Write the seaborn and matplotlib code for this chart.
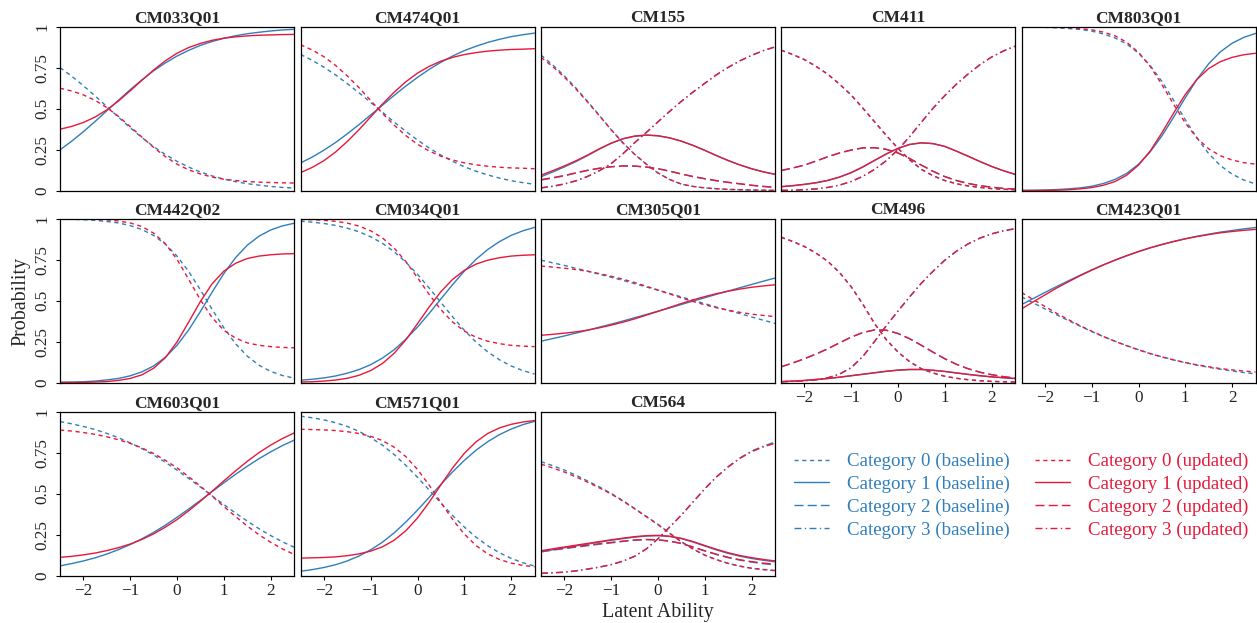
import matplotlib
matplotlib.use("Agg")
import matplotlib.pyplot as plt
import seaborn as sns
from matplotlib.lines import Line2D

# latent ability grid the curves were read at
theta = [-2.5, -2.25, -2.0, -1.75, -1.5, -1.25, -1.0, -0.75, -0.5, -0.25, 0.0,
         0.25, 0.5, 0.75, 1.0, 1.25, 1.5, 1.75, 2.0, 2.25, 2.5]

items = ["CM033Q01", "CM474Q01", "CM155", "CM411", "CM803Q01",
         "CM442Q02", "CM034Q01", "CM305Q01", "CM496", "CM423Q01",
         "CM603Q01", "CM571Q01", "CM564"]

# category probabilities, one row per response category (0, 1, 2, 3)
cm033q01_baseline = [
    [0.751, 0.698, 0.640, 0.578, 0.513, 0.448, 0.384, 0.324, 0.269, 0.221, 0.179,
     0.144, 0.114, 0.090, 0.071, 0.055, 0.043, 0.034, 0.026, 0.020, 0.016],
    [0.249, 0.302, 0.360, 0.422, 0.487, 0.552, 0.616, 0.676, 0.731, 0.779, 0.821,
     0.856, 0.886, 0.910, 0.929, 0.945, 0.957, 0.966, 0.974, 0.980, 0.984],
]
cm033q01_updated = [
    [0.625, 0.608, 0.584, 0.551, 0.507, 0.453, 0.391, 0.327, 0.264, 0.208, 0.162,
     0.127, 0.102, 0.083, 0.070, 0.062, 0.056, 0.052, 0.050, 0.048, 0.047],
    [0.375, 0.392, 0.416, 0.449, 0.493, 0.547, 0.609, 0.673, 0.736, 0.792, 0.838,
     0.873, 0.898, 0.917, 0.930, 0.938, 0.944, 0.948, 0.950, 0.952, 0.953],
]
cm474q01_baseline = [
    [0.831, 0.795, 0.753, 0.706, 0.653, 0.597, 0.538, 0.479, 0.419, 0.362, 0.309,
     0.260, 0.217, 0.179, 0.146, 0.119, 0.096, 0.077, 0.061, 0.049, 0.039],
    [0.169, 0.205, 0.247, 0.294, 0.347, 0.403, 0.462, 0.521, 0.581, 0.638, 0.691,
     0.740, 0.783, 0.821, 0.854, 0.881, 0.904, 0.923, 0.939, 0.951, 0.961],
]
cm474q01_updated = [
    [0.890, 0.858, 0.817, 0.764, 0.700, 0.628, 0.550, 0.472, 0.400, 0.336, 0.283,
     0.242, 0.210, 0.187, 0.170, 0.158, 0.149, 0.143, 0.139, 0.137, 0.134],
    [0.110, 0.142, 0.183, 0.236, 0.300, 0.372, 0.450, 0.528, 0.600, 0.664, 0.717,
     0.758, 0.790, 0.813, 0.830, 0.842, 0.851, 0.857, 0.861, 0.863, 0.866],
]
cm155_baseline = [
    [0.827, 0.767, 0.700, 0.625, 0.543, 0.458, 0.372, 0.292, 0.222, 0.162, 0.108,
     0.068, 0.040, 0.026, 0.017, 0.012, 0.008, 0.006, 0.004, 0.003, 0.002],
    [0.085, 0.114, 0.145, 0.178, 0.215, 0.254, 0.289, 0.316, 0.332, 0.339, 0.335,
     0.322, 0.302, 0.276, 0.246, 0.214, 0.184, 0.157, 0.134, 0.115, 0.100],
    [0.065, 0.077, 0.091, 0.108, 0.124, 0.137, 0.146, 0.151, 0.150, 0.144, 0.134,
     0.119, 0.102, 0.086, 0.073, 0.061, 0.051, 0.042, 0.033, 0.026, 0.021],
    [0.016, 0.026, 0.040, 0.060, 0.087, 0.122, 0.165, 0.225, 0.292, 0.355, 0.420,
     0.484, 0.545, 0.602, 0.655, 0.707, 0.752, 0.792, 0.825, 0.854, 0.878],
]
cm155_updated = [
    [0.813, 0.757, 0.692, 0.619, 0.539, 0.456, 0.371, 0.292, 0.222, 0.162, 0.108,
     0.068, 0.040, 0.026, 0.017, 0.012, 0.008, 0.006, 0.004, 0.003, 0.002],
    [0.095, 0.122, 0.151, 0.183, 0.218, 0.256, 0.290, 0.317, 0.333, 0.339, 0.335,
     0.322, 0.302, 0.276, 0.246, 0.214, 0.184, 0.157, 0.134, 0.115, 0.100],
    [0.068, 0.079, 0.093, 0.109, 0.125, 0.137, 0.146, 0.151, 0.150, 0.144, 0.134,
     0.119, 0.102, 0.086, 0.073, 0.061, 0.051, 0.042, 0.033, 0.026, 0.021],
    [0.018, 0.028, 0.042, 0.061, 0.088, 0.122, 0.165, 0.225, 0.292, 0.355, 0.420,
     0.484, 0.545, 0.602, 0.655, 0.707, 0.752, 0.792, 0.825, 0.854, 0.876],
]
cm411_baseline = [
    [0.858, 0.831, 0.800, 0.758, 0.710, 0.650, 0.583, 0.503, 0.420, 0.337, 0.258,
     0.188, 0.130, 0.091, 0.062, 0.042, 0.029, 0.020, 0.013, 0.009, 0.006],
    [0.024, 0.030, 0.038, 0.048, 0.062, 0.083, 0.110, 0.145, 0.185, 0.224, 0.258,
     0.282, 0.292, 0.287, 0.270, 0.241, 0.210, 0.178, 0.148, 0.122, 0.100],
    [0.122, 0.138, 0.156, 0.181, 0.207, 0.230, 0.248, 0.261, 0.262, 0.252, 0.230,
     0.196, 0.156, 0.118, 0.086, 0.062, 0.044, 0.031, 0.021, 0.014, 0.010],
    [0.002, 0.003, 0.006, 0.011, 0.020, 0.034, 0.056, 0.088, 0.130, 0.183, 0.250,
     0.330, 0.418, 0.503, 0.580, 0.650, 0.712, 0.768, 0.815, 0.852, 0.882],
]
cm411_updated = [
    [0.856, 0.830, 0.799, 0.758, 0.710, 0.650, 0.583, 0.503, 0.420, 0.337, 0.258,
     0.188, 0.130, 0.091, 0.062, 0.042, 0.029, 0.020, 0.013, 0.009, 0.006],
    [0.025, 0.031, 0.039, 0.049, 0.063, 0.083, 0.110, 0.145, 0.185, 0.224, 0.258,
     0.282, 0.292, 0.287, 0.270, 0.241, 0.210, 0.178, 0.148, 0.122, 0.100],
    [0.123, 0.139, 0.156, 0.181, 0.207, 0.230, 0.248, 0.261, 0.262, 0.252, 0.230,
     0.196, 0.156, 0.118, 0.086, 0.062, 0.044, 0.031, 0.021, 0.014, 0.010],
    [0.002, 0.003, 0.006, 0.011, 0.020, 0.034, 0.056, 0.088, 0.130, 0.183, 0.250,
     0.330, 0.418, 0.503, 0.580, 0.650, 0.712, 0.768, 0.815, 0.851, 0.880],
]
cm803q01_baseline = [
    [0.998, 0.997, 0.996, 0.993, 0.989, 0.983, 0.973, 0.956, 0.931, 0.894, 0.839,
     0.763, 0.666, 0.552, 0.433, 0.321, 0.226, 0.153, 0.101, 0.065, 0.041],
    [0.002, 0.003, 0.004, 0.007, 0.011, 0.017, 0.027, 0.044, 0.069, 0.106, 0.161,
     0.237, 0.334, 0.448, 0.567, 0.679, 0.774, 0.847, 0.899, 0.935, 0.959],
]
cm803q01_updated = [
    [0.999, 0.999, 0.998, 0.997, 0.994, 0.989, 0.981, 0.967, 0.944, 0.905, 0.844,
     0.758, 0.647, 0.527, 0.413, 0.321, 0.255, 0.213, 0.187, 0.171, 0.162],
    [0.001, 0.001, 0.002, 0.003, 0.006, 0.011, 0.019, 0.033, 0.056, 0.095, 0.156,
     0.242, 0.353, 0.473, 0.587, 0.679, 0.745, 0.787, 0.813, 0.829, 0.838],
]
cm442q02_baseline = [
    [0.997, 0.996, 0.994, 0.990, 0.983, 0.974, 0.958, 0.934, 0.898, 0.845, 0.772,
     0.678, 0.566, 0.448, 0.335, 0.238, 0.162, 0.107, 0.069, 0.044, 0.028],
    [0.003, 0.004, 0.006, 0.010, 0.017, 0.026, 0.042, 0.066, 0.102, 0.155, 0.228,
     0.322, 0.434, 0.552, 0.665, 0.762, 0.838, 0.893, 0.931, 0.956, 0.972],
]
cm442q02_updated = [
    [0.999, 0.999, 0.998, 0.996, 0.993, 0.986, 0.974, 0.952, 0.912, 0.848, 0.752,
     0.630, 0.505, 0.397, 0.320, 0.272, 0.243, 0.228, 0.220, 0.215, 0.213],
    [0.001, 0.001, 0.002, 0.004, 0.007, 0.014, 0.026, 0.048, 0.088, 0.152, 0.248,
     0.370, 0.495, 0.603, 0.680, 0.728, 0.757, 0.772, 0.780, 0.785, 0.787],
]
cm034q01_baseline = [
    [0.985, 0.979, 0.971, 0.959, 0.942, 0.920, 0.890, 0.850, 0.799, 0.735, 0.661,
     0.577, 0.489, 0.402, 0.320, 0.248, 0.188, 0.140, 0.102, 0.074, 0.053],
    [0.015, 0.021, 0.029, 0.041, 0.058, 0.080, 0.110, 0.150, 0.201, 0.265, 0.339,
     0.423, 0.511, 0.598, 0.680, 0.752, 0.812, 0.860, 0.898, 0.926, 0.947],
]
cm034q01_updated = [
    [0.996, 0.994, 0.990, 0.984, 0.973, 0.955, 0.926, 0.883, 0.821, 0.739, 0.640,
     0.538, 0.445, 0.370, 0.315, 0.277, 0.253, 0.238, 0.228, 0.223, 0.220],
    [0.004, 0.006, 0.010, 0.016, 0.027, 0.045, 0.074, 0.117, 0.179, 0.261, 0.360,
     0.462, 0.555, 0.630, 0.685, 0.723, 0.747, 0.762, 0.772, 0.777, 0.780],
]
cm305q01_baseline = [
    [0.747, 0.731, 0.715, 0.697, 0.680, 0.661, 0.643, 0.624, 0.604, 0.584, 0.564,
     0.544, 0.523, 0.502, 0.482, 0.461, 0.441, 0.421, 0.401, 0.381, 0.362],
    [0.253, 0.269, 0.285, 0.303, 0.320, 0.339, 0.357, 0.376, 0.396, 0.416, 0.436,
     0.456, 0.477, 0.498, 0.518, 0.539, 0.559, 0.579, 0.599, 0.619, 0.638],
]
cm305q01_updated = [
    [0.711, 0.705, 0.698, 0.690, 0.679, 0.665, 0.649, 0.631, 0.611, 0.588, 0.565,
     0.541, 0.517, 0.495, 0.475, 0.457, 0.442, 0.429, 0.418, 0.410, 0.403],
    [0.289, 0.295, 0.302, 0.310, 0.321, 0.335, 0.351, 0.369, 0.389, 0.412, 0.435,
     0.459, 0.483, 0.505, 0.525, 0.543, 0.558, 0.571, 0.582, 0.590, 0.597],
]
cm496_baseline = [
    [0.888, 0.862, 0.831, 0.790, 0.740, 0.672, 0.585, 0.478, 0.360, 0.262, 0.187,
     0.128, 0.085, 0.059, 0.039, 0.027, 0.018, 0.012, 0.008, 0.006, 0.004],
    [0.006, 0.009, 0.013, 0.019, 0.025, 0.033, 0.042, 0.051, 0.060, 0.069, 0.076,
     0.080, 0.080, 0.075, 0.068, 0.059, 0.050, 0.042, 0.035, 0.030, 0.025],
    [0.096, 0.120, 0.146, 0.175, 0.207, 0.243, 0.278, 0.306, 0.322, 0.320, 0.300,
     0.268, 0.228, 0.186, 0.146, 0.112, 0.085, 0.064, 0.049, 0.037, 0.028],
    [0.006, 0.008, 0.012, 0.018, 0.030, 0.052, 0.092, 0.160, 0.252, 0.347, 0.437,
     0.524, 0.607, 0.680, 0.747, 0.802, 0.847, 0.882, 0.908, 0.927, 0.940],
]
cm496_updated = [
    [0.886, 0.861, 0.830, 0.790, 0.740, 0.672, 0.585, 0.478, 0.360, 0.262, 0.187,
     0.128, 0.085, 0.059, 0.039, 0.027, 0.018, 0.012, 0.008, 0.006, 0.004],
    [0.007, 0.010, 0.014, 0.020, 0.026, 0.034, 0.043, 0.052, 0.061, 0.070, 0.077,
     0.081, 0.081, 0.076, 0.069, 0.060, 0.051, 0.043, 0.036, 0.031, 0.026],
    [0.097, 0.120, 0.146, 0.175, 0.207, 0.243, 0.278, 0.306, 0.322, 0.320, 0.300,
     0.268, 0.228, 0.186, 0.146, 0.112, 0.085, 0.064, 0.049, 0.037, 0.028],
    [0.006, 0.008, 0.012, 0.018, 0.030, 0.052, 0.092, 0.160, 0.252, 0.347, 0.437,
     0.524, 0.607, 0.680, 0.747, 0.802, 0.847, 0.881, 0.907, 0.925, 0.938],
]
cm423q01_baseline = [
    [0.524, 0.487, 0.450, 0.414, 0.379, 0.345, 0.312, 0.281, 0.253, 0.226, 0.201,
     0.178, 0.158, 0.139, 0.122, 0.107, 0.094, 0.082, 0.072, 0.062, 0.054],
    [0.476, 0.513, 0.550, 0.586, 0.621, 0.655, 0.688, 0.719, 0.747, 0.774, 0.799,
     0.822, 0.842, 0.861, 0.878, 0.893, 0.906, 0.918, 0.928, 0.938, 0.946],
]
cm423q01_updated = [
    [0.550, 0.507, 0.465, 0.423, 0.385, 0.348, 0.314, 0.282, 0.252, 0.225, 0.200,
     0.177, 0.157, 0.139, 0.123, 0.109, 0.097, 0.086, 0.078, 0.071, 0.065],
    [0.450, 0.493, 0.535, 0.577, 0.615, 0.652, 0.686, 0.718, 0.748, 0.775, 0.800,
     0.823, 0.843, 0.861, 0.877, 0.891, 0.903, 0.914, 0.922, 0.929, 0.935],
]
cm603q01_baseline = [
    [0.940, 0.926, 0.910, 0.891, 0.868, 0.841, 0.810, 0.775, 0.736, 0.692, 0.644,
     0.593, 0.541, 0.487, 0.434, 0.382, 0.333, 0.287, 0.245, 0.207, 0.174],
    [0.060, 0.074, 0.090, 0.109, 0.132, 0.159, 0.190, 0.225, 0.264, 0.308, 0.356,
     0.407, 0.459, 0.513, 0.566, 0.618, 0.667, 0.713, 0.755, 0.793, 0.826],
]
cm603q01_updated = [
    [0.888, 0.882, 0.873, 0.862, 0.847, 0.829, 0.807, 0.779, 0.745, 0.704, 0.658,
     0.604, 0.546, 0.485, 0.422, 0.361, 0.303, 0.250, 0.204, 0.164, 0.130],
    [0.112, 0.118, 0.127, 0.138, 0.153, 0.171, 0.193, 0.221, 0.255, 0.296, 0.342,
     0.396, 0.454, 0.515, 0.578, 0.639, 0.697, 0.750, 0.796, 0.836, 0.870],
]
cm571q01_baseline = [
    [0.973, 0.963, 0.950, 0.933, 0.910, 0.880, 0.842, 0.796, 0.739, 0.673, 0.600,
     0.522, 0.443, 0.367, 0.297, 0.235, 0.183, 0.140, 0.106, 0.079, 0.059],
    [0.027, 0.037, 0.050, 0.067, 0.090, 0.120, 0.158, 0.204, 0.261, 0.327, 0.400,
     0.478, 0.557, 0.633, 0.703, 0.765, 0.817, 0.860, 0.894, 0.921, 0.941],
]
cm571q01_updated = [
    [0.893, 0.891, 0.889, 0.885, 0.878, 0.867, 0.850, 0.824, 0.784, 0.726, 0.648,
     0.552, 0.446, 0.343, 0.254, 0.184, 0.133, 0.099, 0.077, 0.063, 0.054],
    [0.107, 0.109, 0.111, 0.115, 0.122, 0.133, 0.150, 0.176, 0.216, 0.274, 0.352,
     0.448, 0.554, 0.657, 0.746, 0.816, 0.867, 0.901, 0.923, 0.937, 0.946],
]
cm564_baseline = [
    [0.695, 0.671, 0.644, 0.612, 0.577, 0.541, 0.502, 0.458, 0.410, 0.362, 0.313,
     0.259, 0.207, 0.163, 0.126, 0.098, 0.075, 0.058, 0.045, 0.037, 0.030],
    [0.145, 0.158, 0.170, 0.182, 0.193, 0.205, 0.216, 0.226, 0.235, 0.242, 0.244,
     0.239, 0.226, 0.205, 0.181, 0.157, 0.136, 0.119, 0.105, 0.094, 0.085],
    [0.146, 0.156, 0.165, 0.174, 0.183, 0.192, 0.200, 0.209, 0.216, 0.220, 0.218,
     0.210, 0.196, 0.174, 0.151, 0.129, 0.110, 0.095, 0.083, 0.073, 0.066],
    [0.014, 0.017, 0.021, 0.029, 0.040, 0.052, 0.067, 0.088, 0.118, 0.163, 0.225,
     0.297, 0.370, 0.450, 0.530, 0.603, 0.665, 0.718, 0.760, 0.790, 0.815],
]
cm564_updated = [
    [0.680, 0.657, 0.632, 0.602, 0.570, 0.535, 0.498, 0.455, 0.408, 0.360, 0.311,
     0.258, 0.206, 0.162, 0.125, 0.097, 0.075, 0.058, 0.046, 0.038, 0.032],
    [0.152, 0.164, 0.175, 0.186, 0.197, 0.208, 0.219, 0.229, 0.238, 0.244, 0.246,
     0.241, 0.228, 0.208, 0.184, 0.161, 0.140, 0.123, 0.110, 0.099, 0.090],
    [0.150, 0.159, 0.168, 0.177, 0.186, 0.195, 0.203, 0.211, 0.218, 0.221, 0.219,
     0.211, 0.197, 0.175, 0.152, 0.131, 0.112, 0.097, 0.086, 0.077, 0.070],
    [0.015, 0.018, 0.022, 0.030, 0.041, 0.053, 0.068, 0.089, 0.119, 0.163, 0.225,
     0.297, 0.370, 0.450, 0.530, 0.602, 0.663, 0.715, 0.756, 0.785, 0.808],
]

curves = {
    "CM033Q01": (cm033q01_baseline, cm033q01_updated),
    "CM474Q01": (cm474q01_baseline, cm474q01_updated),
    "CM155": (cm155_baseline, cm155_updated),
    "CM411": (cm411_baseline, cm411_updated),
    "CM803Q01": (cm803q01_baseline, cm803q01_updated),
    "CM442Q02": (cm442q02_baseline, cm442q02_updated),
    "CM034Q01": (cm034q01_baseline, cm034q01_updated),
    "CM305Q01": (cm305q01_baseline, cm305q01_updated),
    "CM496": (cm496_baseline, cm496_updated),
    "CM423Q01": (cm423q01_baseline, cm423q01_updated),
    "CM603Q01": (cm603q01_baseline, cm603q01_updated),
    "CM571Q01": (cm571q01_baseline, cm571q01_updated),
    "CM564": (cm564_baseline, cm564_updated),
}

x_ticks = [-2, -1, 0, 1, 2]
y_ticks = [0, 0.25, 0.5, 0.75, 1]
y_tick_labels = ["0", "0.25", "0.5", "0.75", "1"]

BLUE = "#2F7EBC"
RED = "#E8183A"
# R-like line types: dashed, solid, long dash, dot-dash
cat_styles = [(0, (3.0, 2.6)), "-", (0, (6.5, 3.0)), (0, (5.0, 2.4, 1.0, 2.4))]

sns.set_style("white")
plt.rcParams["font.family"] = ["Liberation Serif", "DejaVu Serif"]
plt.rcParams["axes.unicode_minus"] = True

W, H = 1257, 623
fig = plt.figure(figsize=(W / 100, H / 100), dpi=100)

col_left = [60, 300.5, 541, 781, 1021.5]
row_top = [26.7, 218.7, 411.7]
pw, ph = 234, 164
bottom_panels = {"CM603Q01", "CM571Q01", "CM564", "CM496", "CM423Q01"}

for i, item in enumerate(items):
    row, col = divmod(i, 5)
    ax = fig.add_axes([col_left[col] / W, 1 - (row_top[row] + ph) / H, pw / W, ph / H])
    for probs, color in zip(curves[item], (BLUE, RED)):
        for cat, p in enumerate(probs):
            sns.lineplot(x=theta, y=p, ax=ax, color=color, linestyle=cat_styles[cat],
                         linewidth=1.0, estimator=None, sort=False, errorbar=None,
                         legend=False)
    ax.set_xlim(-2.5, 2.5)
    ax.set_ylim(0, 1)
    ax.set_xlabel("")
    ax.set_ylabel("")
    ax.set_title(item, fontsize=12.5, fontweight="bold", pad=3.6)
    for sp in ax.spines.values():
        sp.set_visible(True)
        sp.set_color("black")
        sp.set_linewidth(0.9)
    ax.tick_params(direction="out", length=3, width=0.8, color="black",
                   labelsize=12.3, labelcolor="#222222")
    if item in bottom_panels:
        ax.set_xticks(x_ticks)
        ax.tick_params(axis="x", bottom=True, pad=2.5)
    else:
        ax.set_xticks([])
    if col == 0:
        ax.set_yticks(y_ticks)
        ax.set_yticklabels(y_tick_labels, rotation=90, va="center", ha="center")
        ax.tick_params(axis="y", left=True, pad=9.5)
    else:
        ax.set_yticks([])

fig.text(20.5 / W, 1 - 301.2 / H, "Probability", rotation=90, ha="center",
         va="center", fontsize=14.4)
fig.text(657.5 / W, 1 - 612 / H, "Latent Ability", ha="center", va="center",
         fontsize=14.4)

handles = []
labels = []
for version, color in (("baseline", BLUE), ("updated", RED)):
    for cat in range(4):
        handles.append(Line2D([], [], color=color, linestyle=cat_styles[cat], linewidth=1.0))
        labels.append(f"Category {cat} ({version})")

fig.legend(handles, labels, loc="upper left", bbox_to_anchor=(794 / W, 1 - 453 / H),
           ncol=2, frameon=False, fontsize=13.6, handlelength=1.85,
           handletextpad=0.94, columnspacing=1.37, labelspacing=0.29,
           borderpad=0, borderaxespad=0, labelcolor=[BLUE] * 4 + [RED] * 4)

fig.savefig("out.png", dpi=100)
